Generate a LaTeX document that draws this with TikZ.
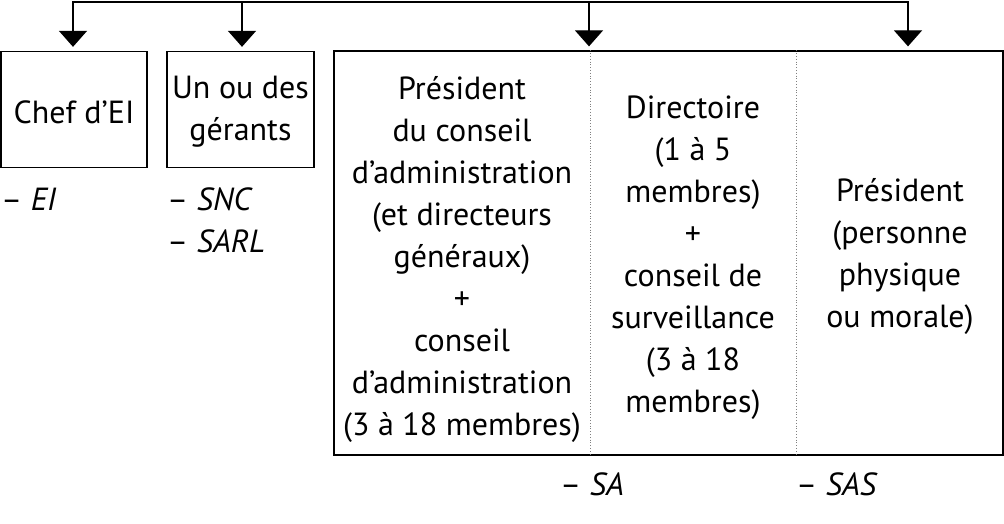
\documentclass[tikz,border=0pt]{standalone}
\usepackage{fontspec}
\setmainfont{PT Sans}
\usetikzlibrary{arrows.meta}
\begin{document}
\begin{tikzpicture}[x=1pt,y=-1pt,
  every node/.style={font=\fontsize{32}{42}\selectfont},
  box/.style={draw, line width=1.3pt, inner sep=0pt},
  txt/.style={align=center, inner sep=0pt},
  lab/.style={anchor=base west, inner sep=0pt},
  conn/.style={line width=1.3pt},
  arr/.style={conn, -{Triangle[width=28pt,length=16pt]}, shorten >=4pt},
  divider/.style={dotted, gray, line width=0.8pt}]
\useasboundingbox (0,0) rectangle (1004,524);
% boxes
\node[box, minimum width=146pt, minimum height=116pt] (b1) at (74,109.5) {};
\node[box, minimum width=147pt, minimum height=116pt] (b2) at (240.5,109.5) {};
\node[box, minimum width=669pt, minimum height=404pt] (b3) at (668.5,253) {};
% dividers
\coordinate (d1) at (590,253);
\coordinate (d2) at (796,253);
\draw[divider] (d1 |- b3.north) -- (d1 |- b3.south);
\draw[divider] (d2 |- b3.north) -- (d2 |- b3.south);
% texts
\node[txt] (c1) at (74,112) {Chef d’EI};
\node[txt] (c2) at (240.5,112) {Un ou des\\gérants};
\node[txt] (c3) at (462,259) {Président\\du conseil\\d’administration\\(et directeurs\\généraux)\\+\\conseil\\d’administration\\(3 à 18 membres)};
\node[txt] (c4) at (693,258) {Directoire\\(1 à 5\\membres)\\+\\conseil de\\surveillance\\(3 à 18\\membres)};
\node[txt] (c5) at (900,256) {Président\\(personne\\physique\\ou morale)};
% labels
\node[lab] (l1) at (1,210) {– \textit{EI}};
\node[lab] (l2) at (167,210) {– \textit{SNC}};
\node[lab] (l3) at (167,252) {– \textit{SARL}};
\node[lab] (l4) at (560,495) {– \textit{SA}};
\node[lab] (l5) at (796,495) {– \textit{SAS}};
% connectors
\coordinate (t1) at (73,2);
\coordinate (t2) at (242,2);
\coordinate (t3) at (589,2);
\coordinate (t4) at (908,2);
\draw[conn, line cap=rect] (t1) -- (t4);
\draw[arr] (t1) -- (t1 |- b1.north);
\draw[arr] (t2) -- (t2 |- b2.north);
\draw[arr] (t3) -- (t3 |- b3.north);
\draw[arr] (t4) -- (t4 |- b3.north);
\end{tikzpicture}
\end{document}
